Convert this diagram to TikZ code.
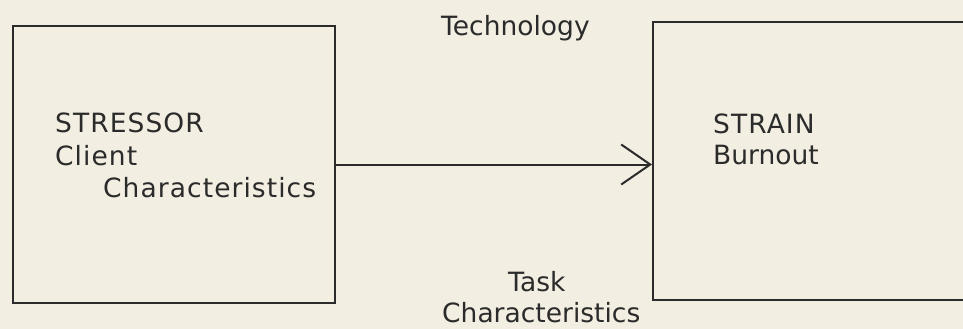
\documentclass[tikz,border=0pt]{standalone}
\usepackage{fontspec}
\setmainfont{DejaVu Sans}
\newfontfamily\widefont[LetterSpace=4]{DejaVu Sans}
\usetikzlibrary{arrows.meta}
\definecolor{paper}{HTML}{F2EEE1}
\definecolor{ink}{HTML}{2B2B2B}
\begin{document}
\begin{tikzpicture}[x=1pt,y=-1pt,
  frame/.style={draw=ink, line width=2pt, inner sep=0pt, anchor=north west},
  label/.style={text=ink, inner sep=0pt, anchor=base west,
    font=\fontsize{26.5}{32}\selectfont},
  widelabel/.style={label, font=\widefont\fontsize{26.5}{32}\selectfont},
  link/.style={draw=ink, line width=2pt,
    -{Straight Barb[length=29pt, width=40pt, line width=2pt]}}]
  % canvas
  \useasboundingbox (0,0) rectangle (963,329);
  \fill[paper] (0,0) rectangle (963,329);
  \clip (0,0) rectangle (963,329);

  % the two blocks (the right one runs off the page)
  \node[frame, minimum width=322pt, minimum height=277pt] (lbox) at (12,25) {};
  \node[frame, minimum width=340pt, minimum height=277.5pt] (rbox) at (652,21.5) {};

  % stressor -> strain
  \draw[link] (lbox.east) -- (lbox.east -| rbox.west);

  % block texts
  \node[widelabel] (stressor) at (55,132) {STRESSOR};
  \node[widelabel] (client) at (55,165) {Client};
  \node[widelabel] (clientchar) at (103,197) {Characteristics};
  \node[widelabel] (strain) at (713,133) {STRAIN};
  \node[label] (burnout) at (713,164) {Burnout};

  % moderators
  \node[label] (tech) at (441,36) {Technology};
  \node[label] (task) at (508,291) {Task};
  \node[label] (taskchar) at (442,322) {Characteristics};
\end{tikzpicture}
\end{document}
